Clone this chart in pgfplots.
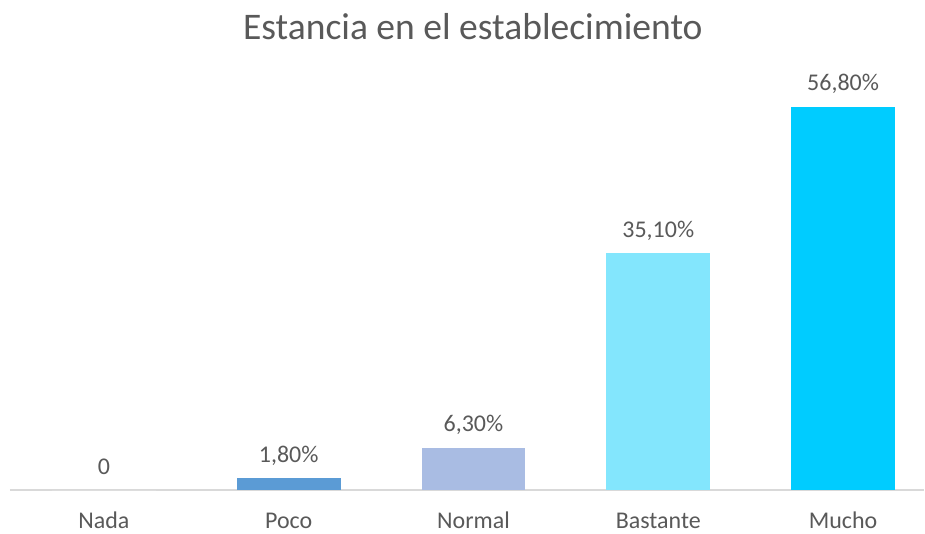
\documentclass[border=0pt]{standalone}
\usepackage{fontspec}
\setmainfont{Carlito}
\usepackage{pgfplots}
\pgfplotsset{compat=1.18}

\definecolor{txt}{HTML}{595959}
\definecolor{axline}{HTML}{D9D9D9}
\definecolor{cPoco}{HTML}{5B9BD5}
\definecolor{cNormal}{HTML}{A9BCE3}
\definecolor{cBastante}{HTML}{83E6FD}
\definecolor{cMucho}{HTML}{00CCFF}

\begin{document}
\begin{tikzpicture}
\begin{axis}[
  at={(7.5pt,30.75pt)}, anchor=south west,
  scale only axis, width=686.25pt, height=304.2pt,
  xmin=-0.508, xmax=4.438, ymin=0, ymax=60,
  axis y line=none, axis x line*=bottom,
  x axis line style={draw=axline, line width=1.5pt, -},
  xtick={0,1,2,3,4}, xticklabels={Nada,Poco,Normal,Bastante,Mucho},
  major tick length=0pt,
  xticklabel style={font=\fontsize{18}{20}\selectfont, text=txt, anchor=base, yshift=-28.5pt},
  ybar, bar width=78pt, bar shift=0pt,
  point meta=explicit symbolic,
  nodes near coords={\pgfplotspointmeta},
  every node near coord/.append style={font=\fontsize{18}{20}\selectfont, text=txt, anchor=base, yshift=12pt},
  clip=false,
]
\addplot[fill=white, draw=none] coordinates {(0,0) [0]};
\addplot[fill=cPoco, draw=none] coordinates {(1,1.8) [1,80\%]};
\addplot[fill=cNormal, draw=none] coordinates {(2,6.3) [6,30\%]};
\addplot[fill=cBastante, draw=none] coordinates {(3,35.1) [35,10\%]};
\addplot[fill=cMucho, draw=none] coordinates {(4,56.8) [56,80\%]};
\end{axis}
\node[font=\fontsize{28.2}{32}\selectfont, text=txt, anchor=base] at (355pt,369.5pt) {Estancia en el establecimiento};
\path[use as bounding box] (0,0) rectangle (693.75pt,399pt);
\end{tikzpicture}
\end{document}
